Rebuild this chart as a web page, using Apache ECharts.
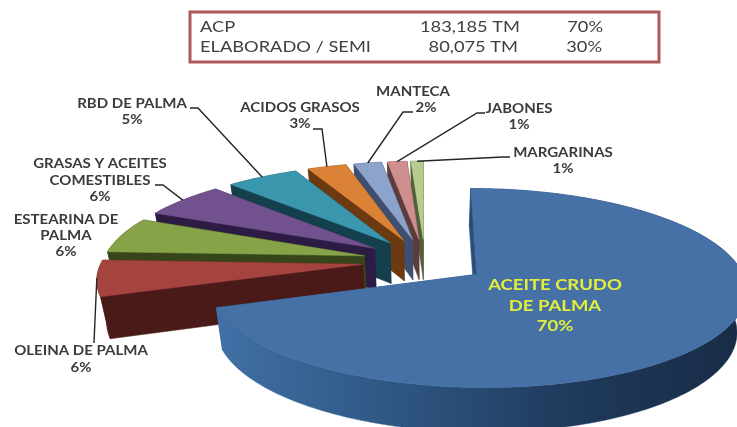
<!DOCTYPE html>
<html><head><meta charset="utf-8">
<style>html,body{margin:0;padding:0;background:#fff}#c{width:737px;height:427px}</style>
<script src="https://cdn.jsdelivr.net/npm/echarts@6/dist/echarts.min.js"></script>
</head><body><div id="c"></div>
<script>
// data
const categories = ['ACEITE CRUDO DE PALMA','OLEINA DE PALMA','ESTEARINA DE PALMA','GRASAS Y ACEITES COMESTIBLES','RBD DE PALMA','ACIDOS GRASOS','MANTECA','JABONES','MARGARINAS'];
const shares = [69.7,6,6,6,5.2,2.8,2,1.4,0.9];
const summaryNames = ['ACP','ELABORADO / SEMI'];
const summaryTonnes = ['183,185 TM','80,075 TM'];
const summaryShares = ['70%','30%'];
// text broken into lines as in the picture
const labelLines = [['ACEITE CRUDO','DE PALMA','70%'],['OLEINA DE PALMA','6%'],['ESTEARINA DE','PALMA','6%'],['GRASAS Y ACEITES','COMESTIBLES','6%'],['RBD DE PALMA','5%'],['ACIDOS GRASOS','3%'],['MANTECA','2%'],['JABONES','1%'],['MARGARINAS','1%']];
// style
const topColors = ['#4671a6','#a5433f','#86a348','#71528f','#3a97ad','#dc8237','#8ca4cc','#cf8f8e','#b7cd8f'];
const sideColors = ['#2b4f7a','#4a1a18','#36451c','#2c1c44','#143f4d','#6b3a10','#3e4f70','#5f3c3c','#515f3a'];
// layout
const CX=425, CY=261, RX=261, RY=94, PERSP=0.135, EXPLODE=0.24, DEPTH=41, TAPER=0.03, START_DEG=0;
const TEXT_STRETCH=1.155;
const labelCenters = [[555,285,20.5],[81,351,17],[66,220,16],[100,164,16.5],[132,104,16],[300,108,16],[426,92,16],[519,109,16],[563,153,16]];
const labelFirstLineShift = [0,0,0,0,0,0,-13,0,0];
const leaderElbows = [null,[[94,343]],null,[[155,185],[163,185]],[[190,108],[198,108]],[[313,129],[322,129]],[[413,112],[403,112]],[[485,113],[477,113]],[[510,157],[503,157]]];
const zBySlice = [90,80,70,60,50,40,30,20,10];

const total = shares.reduce((a,b)=>a+b,0);
function project(X,V,down){
  const s = 1/(1-PERSP*V);
  const d = down ? 1 : 0;
  return [CX+RX*X*s*(1-TAPER*d), CY+RY*V*s+(down||0)*Math.sqrt(s)];
}
function sliceGeom(i){
  let before=0; for(let k=0;k<i;k++) before+=shares[k];
  const a0=(START_DEG+before/total*360)*Math.PI/180;
  const a1=(START_DEG+(before+shares[i])/total*360)*Math.PI/180;
  const mid=(a0+a1)/2;
  const ox=EXPLODE*Math.sin(mid), ov=-EXPLODE*Math.cos(mid);
  const rim=[]; const n=Math.max(6,Math.round((a1-a0)*60));
  for(let k=0;k<=n;k++){const a=a0+(a1-a0)*k/n; rim.push([ox+Math.sin(a),ov-Math.cos(a)]);}
  return {a0,a1,mid,ox,ov,rim};
}
function renderItem(params,api){
  const i=params.dataIndex;
  api.value(0);
  const g=sliceGeom(i), z=zBySlice[i], kids=[];
  const topPts=[project(g.ox,g.ov)].concat(g.rim.map(p=>project(p[0],p[1])));
  const poly=(pts,fill,zz)=>({type:'polygon',shape:{points:pts},style:{fill:fill,stroke:fill,lineWidth:0.5},z2:z+zz});
  const tipD=project(g.ox,g.ov,DEPTH);
  const first=g.rim[0], last=g.rim[g.rim.length-1];
  kids.push(poly([project(g.ox,g.ov),project(first[0],first[1]),project(first[0],first[1],DEPTH),tipD],sideColors[i],0));
  kids.push(poly([project(g.ox,g.ov),project(last[0],last[1]),project(last[0],last[1],DEPTH),tipD],sideColors[i],0));
  const wall=g.rim.map(p=>project(p[0],p[1])).concat(g.rim.slice().reverse().map(p=>project(p[0],p[1],DEPTH)));
  let wallFill=sideColors[i];
  if(i===0){
    wallFill={type:'linear',x:218,y:0,x2:737,y2:0,global:true,colorStops:[
      {offset:0,color:'#4070a6'},{offset:0.35,color:'#2e5682'},{offset:0.68,color:'#1f3a5c'},{offset:1,color:'#182c46'}]};
  }
  kids.push(poly(wall,wallFill,1));
  kids.push(poly(topPts,topColors[i],2));
  // label
  const c=labelCenters[i];
  labelLines[i].forEach((t,k)=>{
    kids.push({type:'text',z2:200,x:c[0]+(k===0?labelFirstLineShift[i]:0),y:c[1]+k*c[2],scaleX:TEXT_STRETCH,style:{text:t,x:0,y:0,align:'center',verticalAlign:'middle',
      fill:i===0?'#e4ee3a':'#3b3b3b',font:(i===0?'bold 16px':'bold 13px')+' Lato, "Open Sans", sans-serif'}});
  });
  // leader to the rim midpoint, computed from the slice angle
  const el=leaderElbows[i];
  if(el){
    const mx=g.ox+Math.sin(g.mid), mv=g.ov-Math.cos(g.mid);
    const pts=el.concat([project(mx,mv)]);
    kids.push({type:'polyline',z2:190,shape:{points:pts},style:{stroke:'#262626',lineWidth:1.4,fill:null}});
  }
  return {type:'group',children:kids};
}
const tableFont='16px Lato, "Open Sans", sans-serif';
const tableText=[];
summaryNames.forEach((t,r)=>{
  const y=[26.5,47][r];
  const cell=(s,x,align)=>({type:'text',x:x,y:y,scaleX:1.14,style:{text:s,x:0,y:0,align:align,verticalAlign:'middle',fill:'#404040',font:tableFont}});
  tableText.push(cell(t,200,'left'));
  tableText.push(cell(summaryTonnes[r],[520,518][r],'right'));
  tableText.push(cell(summaryShares[r],[603,602][r],'right'));
});
const chart=echarts.init(document.getElementById('c'),null,{renderer:'canvas'});
chart.setOption({
  animation:false,
  backgroundColor:'#fff',
  graphic:[{type:'rect',shape:{x:190,y:12,width:469,height:50},style:{fill:'#fff',stroke:'#ae5a59',lineWidth:3}}].concat(tableText),
  series:[{type:'custom',coordinateSystem:'none',silent:true,renderItem:renderItem,
    data:categories.map((n,i)=>({name:n,value:[shares[i]]}))}]
});
</script></body></html>
